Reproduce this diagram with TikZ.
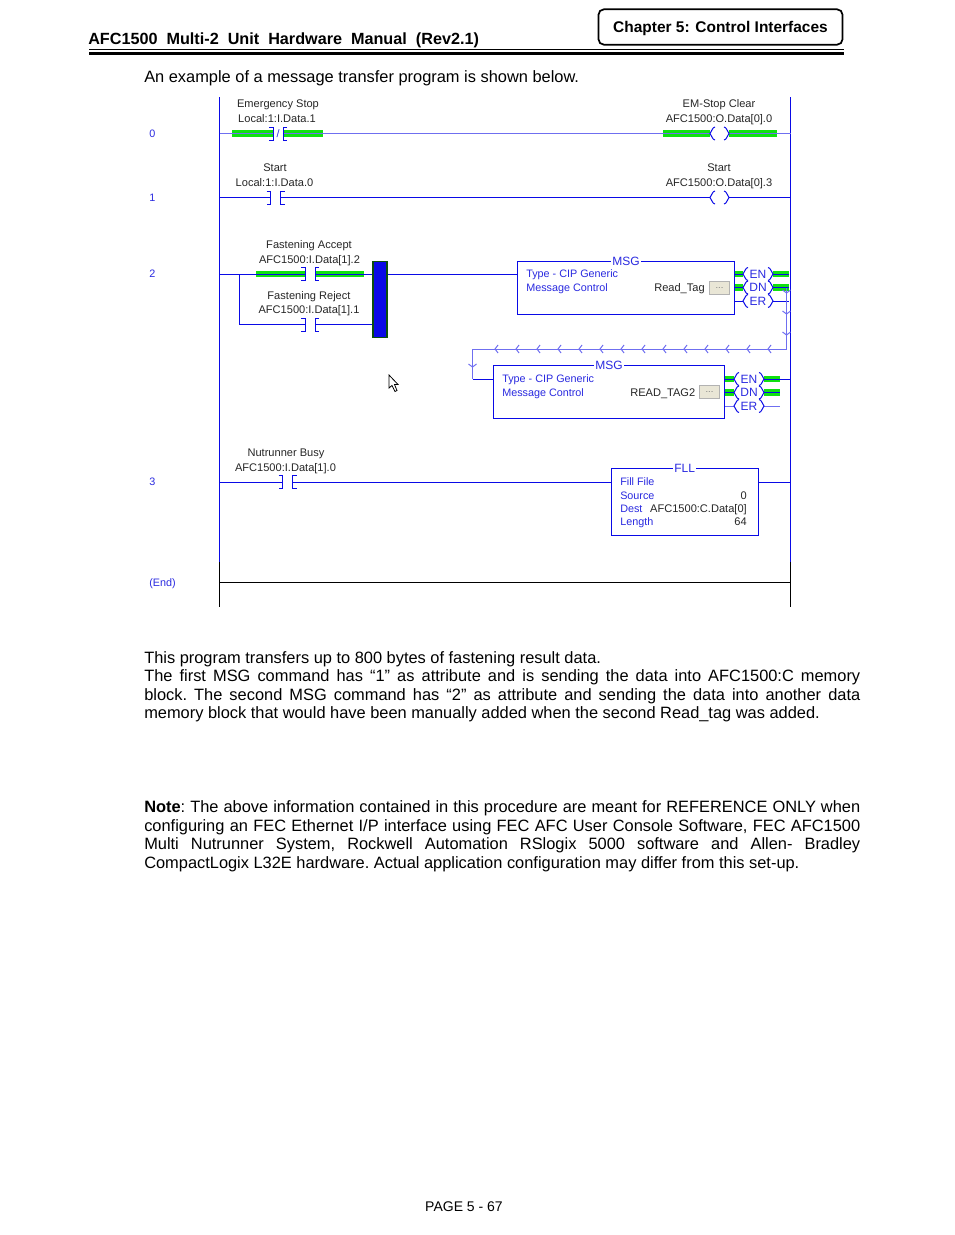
\documentclass[tikz,border=0pt]{standalone}
\usepackage{xcolor}
\usepackage{fontspec}
\setmainfont{Liberation Sans}
\usepackage{tikz}

\definecolor{rungblue}{HTML}{0A0AE6}
\definecolor{dimblue}{HTML}{6F6FF0}
\definecolor{ladtext}{HTML}{2A2AE0}
\definecolor{forcegreen}{HTML}{10E010}
\definecolor{bardark}{HTML}{0B4F0B}
\definecolor{btnfill}{HTML}{E9E6D6}

\tikzset{
  rung/.style={draw=rungblue, line width=0.75pt},
  rungdim/.style={draw=dimblue, line width=0.75pt},
  forced/.style={draw=forcegreen, line width=4.8pt},
  fnbox/.style={draw=rungblue, line width=0.75pt, fill=white, inner sep=0pt},
  fntitle/.style={fill=white, inner sep=0.8pt, text height=6.4pt, text depth=0pt, text=ladtext, font=\fontsize{9}{10}\selectfont},
  tagtext/.style={inner sep=0pt, text height=5.8pt, text depth=0pt, text=black!85, font=\fontsize{8.3}{10}\selectfont},
  bluetext/.style={inner sep=0pt, anchor=west, text height=5.8pt, text depth=0pt, text=ladtext, font=\fontsize{8.1}{10}\selectfont},
  bittext/.style={inner sep=0pt, text height=6.4pt, text depth=0pt, text=ladtext, font=\fontsize{9}{10}\selectfont},
  btnbox/.style={draw=black!30, fill=btnfill, inner sep=0pt, minimum width=15pt, minimum height=10pt, text=black!50, font=\fontsize{7}{8}\selectfont},
  bodytext/.style={inner sep=0pt, anchor=north west, text width=537pt, align=justify, font=\fontsize{12.3}{13.9}\selectfont\frenchspacing},
  xic/.pic={
    \draw[rung] (-4,-6.5) -- (0,-6.5) -- (0,6.5) -- (-4,6.5);
    \draw[rung] (14,-6.5) -- (10,-6.5) -- (10,6.5) -- (14,6.5);
  },
  pics/coil/.style={code={
    \draw[rung] (5,-6.5) .. controls (2,-6) and (2,-2) .. (0,0) .. controls (2,2) and (2,6) .. (5,6.5);
    \draw[rung] (#1-5,-6.5) .. controls (#1-2,-6) and (#1-2,-2) .. (#1,0) .. controls (#1-2,2) and (#1-2,6) .. (#1-5,6.5);
  }},
}

\begin{document}
\begin{tikzpicture}[x=0.75pt,y=-0.75pt]
\useasboundingbox (0,0) rectangle (954,1235);

% page header
\node[anchor=base west, inner sep=0pt, font=\bfseries\fontsize{12.15}{14}\selectfont] (title) at (88,44) {AFC1500\ \ Multi-2\ \ Unit\ \ Hardware\ \ Manual\ \ (Rev2.1)};
\node[draw, line width=1.3pt, rounded corners=4pt, minimum width=183pt, minimum height=26.5pt, inner sep=0pt] (chapter) at (720.5,27) {};
\node[inner sep=0pt, text height=8.6pt, text depth=0pt, font=\bfseries\fontsize{11.6}{14}\selectfont] (chaptertext) at (chapter.center) {Chapter 5: Control Interfaces};
\draw[line width=0.8pt] (89,49.5) -- (844,49.5);
\draw[line width=2.6pt] (89,53.5) -- (844,53.5);

\node[inner sep=0pt, anchor=base west, font=\fontsize{12.3}{14}\selectfont] (intro) at (144,82.5) {An example of a message transfer program is shown below.};

% rails
\coordinate (railLtop) at (219.5,97);
\coordinate (railLend) at (219.5,562);
\coordinate (railLbot) at (219.5,607);
\coordinate (railRtop) at (790.5,97);
\coordinate (railRend) at (790.5,562);
\coordinate (railRbot) at (790.5,607);
\draw[rung] (railLtop) -- (railLend);
\draw[rung] (railRtop) -- (railRend);
\draw[line width=0.75pt] (railLend) -- (railLbot);
\draw[line width=0.75pt] (railRend) -- (railRbot);

% rung numbers
\node[bluetext, anchor=center] (num0) at (152.5,133.5) {0};
\node[bluetext, anchor=center] (num1) at (152.5,197.5) {1};
\node[bluetext, anchor=center] (num2) at (152.5,274) {2};
\node[bluetext, anchor=center] (num3) at (152.5,482) {3};
\node[bluetext, anchor=center] (numEnd) at (162.5,583) {(End)};

% rung 0
\coordinate (L0) at (219.5,133.5);
\coordinate (R0) at (790.5,133.5);
\coordinate (c0a) at (273,133.5);
\coordinate (c0b) at (283,133.5);
\coordinate (o0a) at (710,133.5);
\coordinate (o0b) at (729,133.5);
\draw[forced] (232,133.5) -- (c0a);
\draw[forced] (c0b) -- (323,133.5);
\draw[forced] (663,133.5) -- (o0a);
\draw[forced] (o0b) -- (777,133.5);
\draw[rungdim] (L0) -- (c0a);
\draw[rungdim] (c0b) -- (o0a);
\draw[rungdim] (o0b) -- (R0);
\pic at (c0a) {xic};
\pic at (o0a) {coil=19};
\node[bluetext, anchor=center] (slash0) at (278,133.5) {/};
\node[tagtext] (tag0a) at (278,104) {Emergency Stop};
\node[tagtext] (tag0b) at (277,119) {Local:1:I.Data.1};
\node[tagtext] (tag0c) at (719,104) {EM-Stop Clear};
\node[tagtext] (tag0d) at (719,119) {AFC1500:O.Data[0].0};

% rung 1
\coordinate (L1) at (219.5,197.5);
\coordinate (R1) at (790.5,197.5);
\coordinate (c1a) at (270.5,197.5);
\coordinate (c1b) at (280.5,197.5);
\coordinate (o1a) at (710,197.5);
\coordinate (o1b) at (729,197.5);
\draw[rung] (L1) -- (c1a);
\draw[rung] (c1b) -- (o1a);
\draw[rung] (o1b) -- (R1);
\pic at (c1a) {xic};
\pic at (o1a) {coil=19};
\node[tagtext] (tag1a) at (275,168) {Start};
\node[tagtext] (tag1b) at (274.5,183) {Local:1:I.Data.0};
\node[tagtext] (tag1c) at (719,168) {Start};
\node[tagtext] (tag1d) at (719,183) {AFC1500:O.Data[0].3};

% rung 2, first branch
\coordinate (L2) at (219.5,274);
\coordinate (c2a) at (305,274);
\coordinate (c2b) at (315.5,274);
\coordinate (k2) at (239.5,274);
\coordinate (k2low) at (239.5,324.5);
\coordinate (c3a) at (305,324.5);
\coordinate (c3b) at (315.5,324.5);
\draw[forced] (256,274) -- (c2a);
\draw[forced] (c2b) -- (364,274);
\node[draw=bardark, line width=1.3pt, fill=rungblue, minimum width=10.5pt, minimum height=57pt, inner sep=0pt] (bar) at (380,299.5) {};
\node[fnbox, minimum width=163pt, minimum height=39.5pt] (msgA) at (626,288) {};
\node[fntitle] (msgAt) at (msgA.north) {MSG};
\draw[rung] (L2) -- (c2a);
\draw[rung] (c2b) -- (bar.west |- c2b);
\draw[rung] (k2) -- (k2low) -- (c3a);
\draw[rung] (c3b) -- (bar.west |- c3b);
\draw[rung] (bar.east |- c2b) -- (msgA.west |- c2b);
\pic at (c2a) {xic};
\pic at (c3a) {xic};
\node[tagtext] (tag2a) at (309,245) {Fastening Accept};
\node[tagtext] (tag2b) at (309.5,260) {AFC1500:I.Data[1].2};
\node[tagtext] (tag2c) at (309,295.5) {Fastening Reject};
\node[tagtext] (tag2d) at (309,310) {AFC1500:I.Data[1].1};
\node[bluetext] (msgAa) at (526,274) {Type - CIP Generic};
\node[bluetext] (msgAb) at (526,288) {Message Control};
\node[tagtext, anchor=west] (msgAc) at (654,288) {Read\_Tag};
\node[btnbox] (btnA) at (719.5,288) {...};

% outputs of the first message
\coordinate (enA) at (743,274);
\coordinate (dnA) at (743,287.5);
\coordinate (erA) at (743,301);
\coordinate (enAr) at (773,274);
\coordinate (dnAr) at (773,287.5);
\coordinate (erAr) at (773,301);
\coordinate (enAe) at (789,274);
\coordinate (dnAe) at (789,287.5);
\coordinate (erAe) at (789,301);
\draw[forced] (msgA.east |- enA) -- (enA);
\draw[forced] (msgA.east |- dnA) -- (dnA);
\draw[forced] (enAr) -- (enAe);
\draw[forced] (dnAr) -- (dnAe);
\draw[rung] (msgA.east |- enA) -- (enA);
\draw[rung] (msgA.east |- dnA) -- (dnA);
\draw[rung] (msgA.east |- erA) -- (erA);
\draw[rung] (enAr) -- (enAe);
\draw[rung] (dnAr) -- (dnAe);
\draw[rung] (erAr) -- (erAe);
\foreach \k in {enA,dnA,erA} \pic at (\k) {coil=30};
\node[bittext] (enAt) at (758,274) {EN};
\node[bittext] (dnAt) at (758,287.5) {DN};
\node[bittext] (erAt) at (758,301) {ER};

% wire down to the second message
\coordinate (t1) at (786.5,287.5);
\coordinate (t2) at (786.5,349);
\coordinate (t3) at (472.5,349);
\coordinate (t4) at (472.5,379);
\node[fnbox, minimum width=173.5pt, minimum height=40pt] (msgB) at (609,392) {};
\node[fntitle] (msgBt) at (msgB.north) {MSG};
\draw[rungdim] (t1) -- (t2) -- (t3) -- (t4);
\draw[rung] (t4) -- (msgB.west |- t4);
\foreach \y in {293,314,335} \draw[rungdim] (782.5,\y-3) -- (786.5,\y) -- (790.5,\y-3);
\draw[rungdim] (468.5,364) -- (472.5,367) -- (476.5,364);
\foreach \k in {0,...,13} \draw[rungdim] ({495+21*\k+3},345) -- ({495+21*\k},349) -- ({495+21*\k+3},353);
\node[bluetext] (msgBa) at (502,379) {Type - CIP Generic};
\node[bluetext] (msgBb) at (502,392.5) {Message Control};
\node[tagtext, anchor=west] (msgBc) at (630,392.5) {READ\_TAG2};
\node[btnbox] (btnB) at (709.5,392) {...};

% outputs of the second message
\coordinate (enB) at (734,379);
\coordinate (dnB) at (734,392.5);
\coordinate (erB) at (734,406);
\coordinate (enBr) at (764,379);
\coordinate (dnBr) at (764,392.5);
\coordinate (erBr) at (764,406);
\coordinate (enBe) at (780,379);
\coordinate (dnBe) at (780,392.5);
\coordinate (erBe) at (780,406);
\coordinate (R2b) at (790.5,379);
\draw[forced] (msgB.east |- enB) -- (enB);
\draw[forced] (msgB.east |- dnB) -- (dnB);
\draw[forced] (enBr) -- (enBe);
\draw[forced] (dnBr) -- (dnBe);
\draw[rung] (msgB.east |- enB) -- (enB);
\draw[rung] (msgB.east |- dnB) -- (dnB);
\draw[rungdim] (msgB.east |- erB) -- (erB);
\draw[rung] (enBr) -- (R2b);
\draw[rung] (dnBr) -- (dnBe);
\draw[rungdim] (erBr) -- (erBe);
\foreach \k in {enB,dnB,erB} \pic at (\k) {coil=30};
\node[bittext] (enBt) at (749,379) {EN};
\node[bittext] (dnBt) at (749,392.5) {DN};
\node[bittext] (erBt) at (749,406) {ER};

% mouse pointer
\draw[fill=white, line width=0.6pt] (389,375) -- (389,388) -- (392,385.5) -- (395,391.5) -- (397,390.5) -- (394.5,384.5) -- (398,384.5) -- cycle;

% rung 3
\coordinate (L3) at (219.5,482);
\coordinate (R3) at (790.5,482);
\coordinate (c4a) at (282.5,482);
\coordinate (c4b) at (292.5,482);
\node[fnbox, minimum width=110.5pt, minimum height=50pt] (fll) at (684.7,501.8) {};
\node[fntitle] (fllt) at (fll.north) {FLL};
\draw[rung] (L3) -- (c4a);
\draw[rung] (c4b) -- (fll.west |- c4b);
\draw[rung] (fll.east |- R3) -- (R3);
\pic at (c4a) {xic};
\node[tagtext] (tag3a) at (286,453) {Nutrunner Busy};
\node[tagtext] (tag3b) at (285.5,468) {AFC1500:I.Data[1].0};
\node[bluetext] (fllA) at (620,482) {Fill File};
\node[bluetext] (fllB) at (620,495.5) {Source};
\node[bluetext] (fllC) at (620,509) {Dest};
\node[bluetext] (fllD) at (620,522) {Length};
\node[tagtext, anchor=east] (fllE) at (747,495.5) {0};
\node[tagtext, anchor=east] (fllF) at (747,509) {AFC1500:C.Data[0]};
\node[tagtext, anchor=east] (fllG) at (747,522) {64};

% end rung
\coordinate (L4) at (219.5,582.5);
\coordinate (R4) at (790.5,582.5);
\draw[line width=0.75pt] (L4) -- (R4);

% text below the program
\node[bodytext] (paraA) at (144,651) {This program transfers up to 800 bytes of fastening result data.\\
The first MSG command has “1” as attribute and is sending the data into AFC1500:C memory\linebreak
block. The second MSG command has “2” as attribute and sending the data into another data\linebreak
memory block that would have been manually added when the second Read\_tag was added.};
\node[bodytext] (paraB) at (144,800.5) {\textbf{Note}: The above information contained in this procedure are meant for REFERENCE ONLY when\linebreak
configuring an FEC Ethernet I/P interface using FEC AFC User Console Software, FEC AFC1500\linebreak
Multi Nutrunner System, Rockwell Automation RSlogix 5000 software and Allen- Bradley\linebreak
CompactLogix L32E hardware. Actual application configuration may differ from this set-up.};

\node[inner sep=0pt, font=\fontsize{10.5}{13}\selectfont] (pageno) at (464,1207) {PAGE 5 - 67};

\end{tikzpicture}
\end{document}
